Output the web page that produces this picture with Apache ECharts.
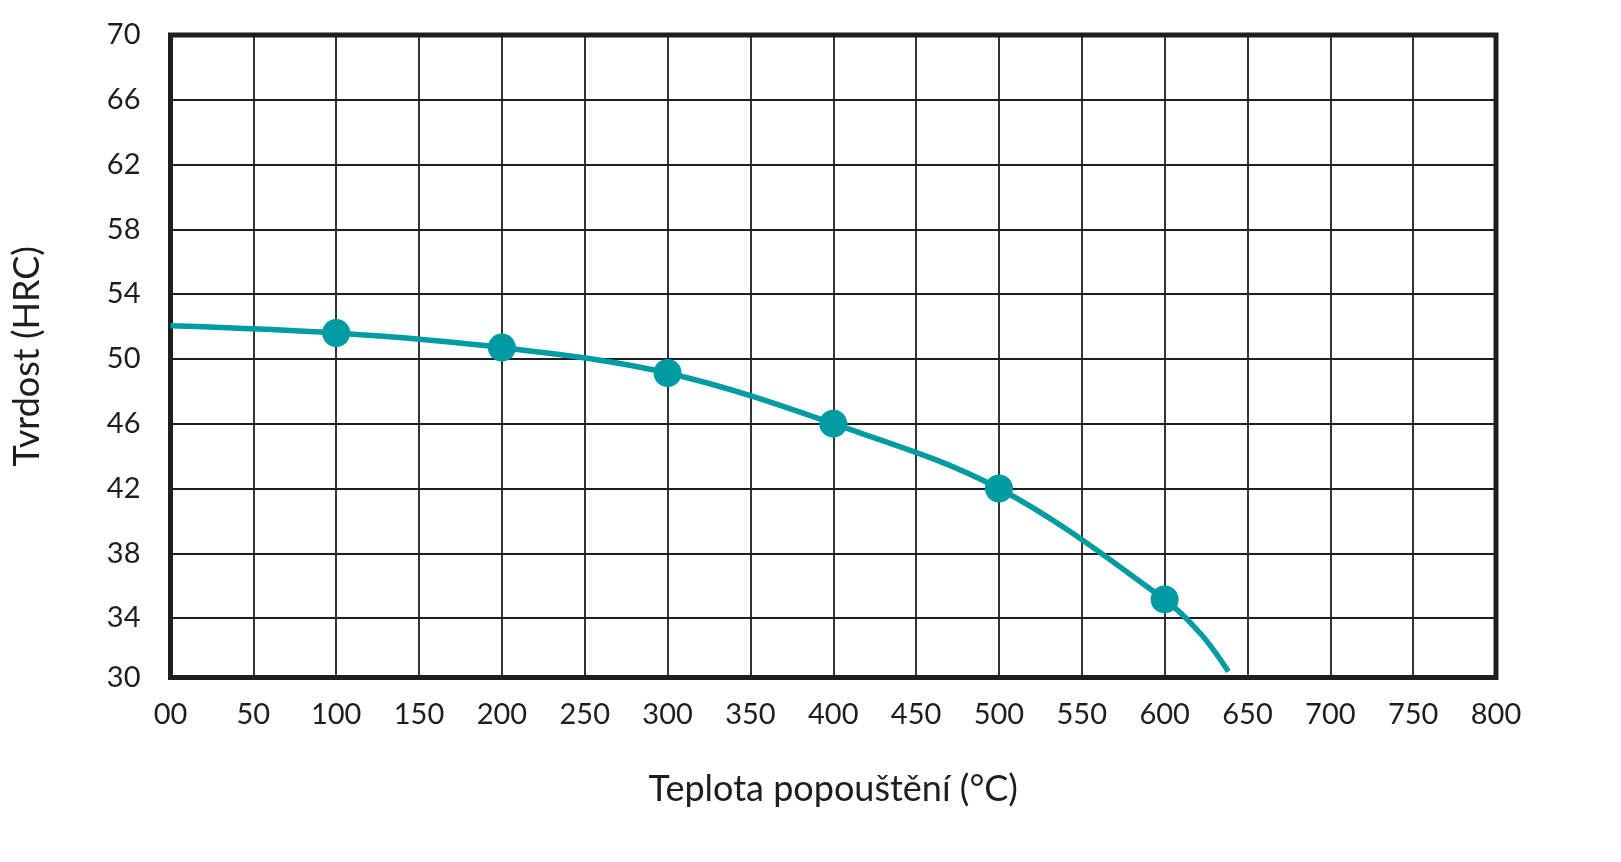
<!DOCTYPE html>
<html>
<head>
<meta charset="utf-8">
<script src="https://cdn.jsdelivr.net/npm/echarts@6/dist/echarts.min.js"></script>
<style>
html,body{margin:0;padding:0;background:#fff;}
#chart{width:1621px;height:862px;}
</style>
</head>
<body>
<div id="chart"></div>
<script>
// ---- data ----
const xTicks = [0,50,100,150,200,250,300,350,400,450,500,550,600,650,700,750,800];
const xTickLabels = ['00','50','100','150','200','250','300','350','400','450','500','550','600','650','700','750','800'];
const yTickValues = [30.33,34,38,42,46,50,54,58,62,66,70];
const yTickLabels = ['30','34','38','42','46','50','54','58','62','66','70'];
// curve (temperature °C, hardness HRC)
const curveTemp = [0,100,200,300,400,500,600,622,638.5];
const curveHRC  = [52.05,51.6,50.7,49.13,46.0,42.0,35.15,33.0,30.7];
// measured points (markers)
const pointTemp = [100,200,300,400,500,600];
const pointHRC  = [51.6,50.7,49.13,46.0,42.0,35.15];
const xTitle = 'Teplota popouštění (°C)';
const yTitle = 'Tvrdost (HRC)';

const TEAL = '#009ba3';
const INK = '#1e1e1e';
const FONT = 'Lato, "Liberation Sans", sans-serif';

const chart = echarts.init(document.getElementById('chart'), null, {renderer:'canvas'});
chart.setOption({
  animation:false,
  backgroundColor:'#fff',
  grid:{left:170.5, right:125, top:35, bottom:184.5, show:true, borderColor:INK, borderWidth:5, backgroundColor:'transparent', z:3},
  xAxis:{
    type:'value', min:xTicks[0], max:xTicks[xTicks.length-1], interval:50,
    name:xTitle, nameLocation:'middle', nameGap:94,
    nameTextStyle:{fontFamily:FONT, fontSize:36, color:INK},
    axisLine:{show:false}, axisTick:{show:false},
    axisLabel:{margin:23, fontFamily:FONT, fontSize:29, color:INK,
      formatter:v=>{const i=xTicks.indexOf(v);return i>=0?xTickLabels[i]:'';}},
    splitLine:{show:true, lineStyle:{color:INK, width:1.8}}
  },
  yAxis:{
    type:'value', min:yTickValues[0], max:yTickValues[yTickValues.length-1],
    name:yTitle, nameLocation:'middle', nameGap:125, nameRotate:90,
    nameTextStyle:{fontFamily:FONT, fontSize:36, color:INK},
    axisLine:{show:false},
    axisTick:{show:false, customValues:yTickValues},
    axisLabel:{margin:30, fontFamily:FONT, fontSize:29, color:INK, customValues:yTickValues,
      formatter:v=>{let b=0;for(let i=0;i<yTickValues.length;i++){if(Math.abs(yTickValues[i]-v)<Math.abs(yTickValues[b]-v))b=i;}return yTickLabels[b];}},
    splitLine:{show:true, lineStyle:{color:INK, width:1.8}}
  },
  series:[
    {type:'line', data:curveTemp.map((t,i)=>[t,curveHRC[i]]), smooth:0.35,
     showSymbol:false, symbol:'none', lineStyle:{color:TEAL, width:5.5}, z:4},
    {type:'scatter', data:pointTemp.map((t,i)=>[t,pointHRC[i]]), symbol:'circle', symbolSize:28,
     itemStyle:{color:TEAL, opacity:1}, z:5}
  ]
});
</script>
</body>
</html>
